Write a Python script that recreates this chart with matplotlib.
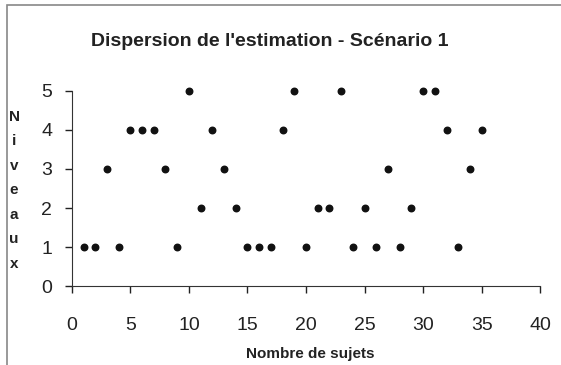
import matplotlib.pyplot as plt
from matplotlib.patches import Rectangle

sujets = list(range(1, 36))
niveaux = [1, 1, 3, 1, 4, 4, 4, 3, 1, 5, 2, 4, 3, 2, 1, 1, 1, 4, 5, 1,
           2, 2, 5, 1, 2, 1, 3, 1, 2, 5, 5, 4, 1, 3, 4]
x_ticks = [0, 5, 10, 15, 20, 25, 30, 35, 40]
y_ticks = [0, 1, 2, 3, 4, 5]

plt.rcParams['font.family'] = ['Liberation Sans', 'DejaVu Sans']

fig = plt.figure(figsize=(5.61, 3.65), dpi=100)
ax = fig.add_axes([0.128, 0.216, 0.835, 0.535])

ax.scatter(sujets, niveaux, s=22, c='#111111', zorder=3, clip_on=False)

ax.set_xlim(0, 40)
ax.set_ylim(0, 5)
ax.set_xticks(x_ticks)
ax.set_yticks(y_ticks)
ax.tick_params(labelsize=14, length=5, width=1, colors='#222222')
ax.tick_params(axis='x', pad=17)
ax.tick_params(axis='y', pad=9)
for s in ['top', 'right']:
    ax.spines[s].set_visible(False)
for s in ['left', 'bottom']:
    ax.spines[s].set_color('#333333')

fig.text(0.481, 0.885, "Dispersion de l'estimation - Scénario 1",
         ha='center', va='center', fontsize=14, fontweight='bold', color='#222222')
fig.text(0.553, 0.03, 'Nombre de sujets', ha='center', va='center',
         fontsize=11, fontweight='bold', color='#222222')
fig.text(0.025, 0.479, '\n'.join('Niveaux'), ha='center', va='center',
         fontsize=11, fontweight='bold', color='#222222', linespacing=1.95)

# cadre autour du graphique
fig.patches.append(Rectangle((7 / 561, -0.1), 1.2, 1 - 5 / 365 + 0.1,
                             transform=fig.transFigure, fill=False,
                             edgecolor='#888888', lw=1.2))

plt.savefig('out.png', dpi=100)
